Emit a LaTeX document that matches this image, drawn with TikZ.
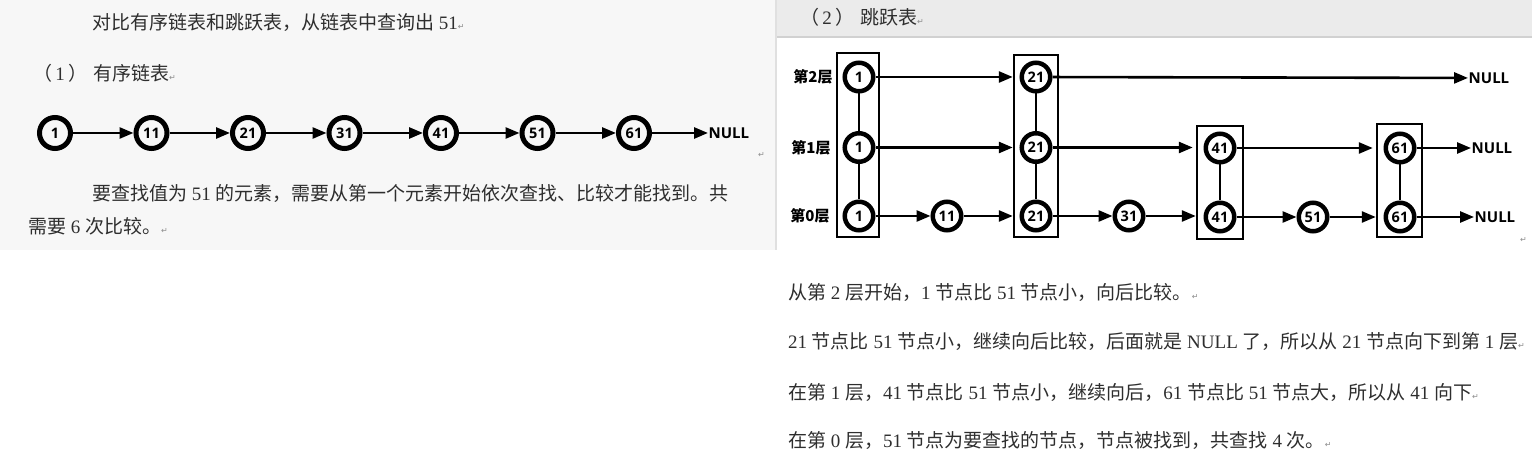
\documentclass[tikz,border=0pt]{standalone}
\usepackage{fontspec}
\setmainfont{Noto Sans CJK SC}
\newfontfamily\numfont{Liberation Serif}
\newfontfamily\dfont{Open Sans}
\newfontfamily\ufont{DejaVu Sans}
\usetikzlibrary{arrows.meta}
\newcommand\nm[1]{{\numfont #1}}
\newcommand\pmark{{\ufont\fontsize{8}{8}\selectfont\color{black!45}↵}}
\tikzset{
  txt/.style={anchor=west, inner sep=0pt, text=black!82, font=\fontsize{19}{21}\selectfont},
  lnode/.style={circle, draw, line width=5pt, minimum size=31pt, inner sep=0pt, font=\dfont\bfseries\fontsize{14.5}{14.5}\selectfont},
  snode/.style={circle, draw, line width=4.5pt, minimum size=28.5pt, inner sep=0pt, fill=white, font=\dfont\bfseries\fontsize{14.5}{14.5}\selectfont},
  colbox/.style={rectangle, draw, line width=2.5pt, inner sep=0pt},
  arr/.style={line width=2.6pt, -{Triangle[length=14pt,width=11pt]}},
  vlink/.style={line width=2.5pt},
  nulltxt/.style={anchor=west, inner sep=0.5pt, font=\dfont\bfseries\fontsize{15}{15}\selectfont},
  lvl/.style={inner sep=0pt, font=\bfseries\fontsize{15}{15}\selectfont},
}
\begin{document}
\begin{tikzpicture}[x=1pt,y=-1pt]
\useasboundingbox (0,0) rectangle (1532,462);
% backgrounds
\fill[black!3] (0,0) rectangle (776,250);
\fill[black!8] (776,0) rectangle (1532,37);
\draw[black!18, line width=2pt] (776,37) -- (1532,37);
\draw[black!12, line width=1.5pt] (776,0) -- (776,250);

% ---------- left: ordered linked list ----------
\node[txt] (t1) at (92,22) {对比有序链表和跳跃表，从链表中查询出\nm{ 51}\pmark};
\node[txt] (t2) at (33,73) {（\,\nm{1}\,）\hspace{6pt}有序链表\pmark};
\foreach \v [count=\i] in {1,11,21,31,41,51,61}
  \node[lnode] (l\i) at ({55+96.5*(\i-1)},133) {\v};
\node[nulltxt] (lnull) at (708,133) {NULL};
\foreach \i/\j in {1/2,2/3,3/4,4/5,5/6,6/7}
  \draw[arr] (l\i) -- (l\j);
\draw[arr] (l7) -- (lnull);
\node[txt] (pm0) at (758,155) {\pmark};
\node[txt] (t3) at (92,193) {要查找值为\nm{ 51 }的元素，需要从第一个元素开始依次查找、比较才能找到。共};
\node[txt] (t4) at (28,226) {需要\nm{ 6 }次比较。\pmark};

% ---------- right: skip list ----------
\node[txt] (t5) at (800,17) {（\,\nm{2}\,）\hspace{6pt}跳跃表\pmark};

\node[colbox, minimum width=42pt, minimum height=184pt] (boxA) at (858,145) {};
\node[colbox, minimum width=44pt, minimum height=182pt] (boxB) at (1036,146) {};
\node[colbox, minimum width=46pt, minimum height=113pt] (boxE) at (1220,182.5) {};
\node[colbox, minimum width=45pt, minimum height=113pt] (boxG) at (1399.5,180.5) {};

\node[lvl] (lab2) at (813,77) {第2层};
\node[lvl] (lab1) at (811,147.5) {第1层};
\node[lvl] (lab0) at (810,216) {第0层};

\node[snode] (a2) at (859,77) {1};
\node[snode] (a1) at (859,147.5) {1};
\node[snode] (a0) at (859,216) {1};
\node[snode] (c0) at (947,216) {11};
\node[snode] (b2) at (1036,77) {21};
\node[snode] (b1) at (1036,147.5) {21};
\node[snode] (b0) at (1036,216) {21};
\node[snode] (d0) at (1129,216) {31};
\node[snode] (e1) at (1220,148) {41};
\node[snode] (e0) at (1220,217) {41};
\node[snode] (f0) at (1313,217) {51};
\node[snode] (g1) at (1400,148) {61};
\node[snode] (g0) at (1400,217) {61};

\node[nulltxt] (null2) at (1468,78) {NULL};
\node[nulltxt] (null1) at (1471,148) {NULL};
\node[nulltxt] (null0) at (1474,217) {NULL};

% vertical links
\draw[vlink] (a2) -- (a1);
\draw[vlink] (a1) -- (a0);
\draw[vlink] (b2) -- (b1);
\draw[vlink] (b1) -- (b0);
\draw[vlink] (e1) -- (e0);
\draw[vlink] (g1) -- (g0);

% level 2
\draw[arr] (a2) -- (boxB.west |- a2);
\draw[arr] (b2) -- (null2);
% level 1
\draw[arr] (a1) -- (boxB.west |- a1);
\draw[arr] (b1) -- ([xshift=-3pt]boxE.west |- b1);
\draw[arr] (e1) -- ([xshift=-3pt]boxG.west |- e1);
\draw[arr] (g1) -- (null1);
% level 0
\draw[arr] (a0) -- (c0);
\draw[arr] (c0) -- (boxB.west |- c0);
\draw[arr] (b0) -- (d0);
\draw[arr] (d0) -- (boxE.west |- d0);
\draw[arr] (e0) -- (f0);
\draw[arr] (f0) -- (boxG.west |- f0);
\draw[arr] (g0) -- (null0);
\node[txt] (pm1) at (1520,240) {\pmark};

% explanation text
\node[txt] (r1) at (788,292) {从第\nm{ 2 }层开始，\nm{1 }节点比\nm{ 51 }节点小，向后比较。\pmark};
\node[txt] (r2) at (788,341) {\nm{21 }节点比\nm{ 51 }节点小，继续向后比较，后面就是\nm{ NULL }了，所以从\nm{ 21 }节点向下到第\nm{ 1 }层\pmark};
\node[txt] (r3) at (788,392) {在第\nm{ 1 }层，\nm{41 }节点比\nm{ 51 }节点小，继续向后，\nm{61 }节点比\nm{ 51 }节点大，所以从\nm{ 41 }向下\pmark};
\node[txt] (r4) at (788,440) {在第\nm{ 0 }层，\nm{51 }节点为要查找的节点，节点被找到，共查找\nm{ 4 }次。\pmark};
\end{tikzpicture}
\end{document}
